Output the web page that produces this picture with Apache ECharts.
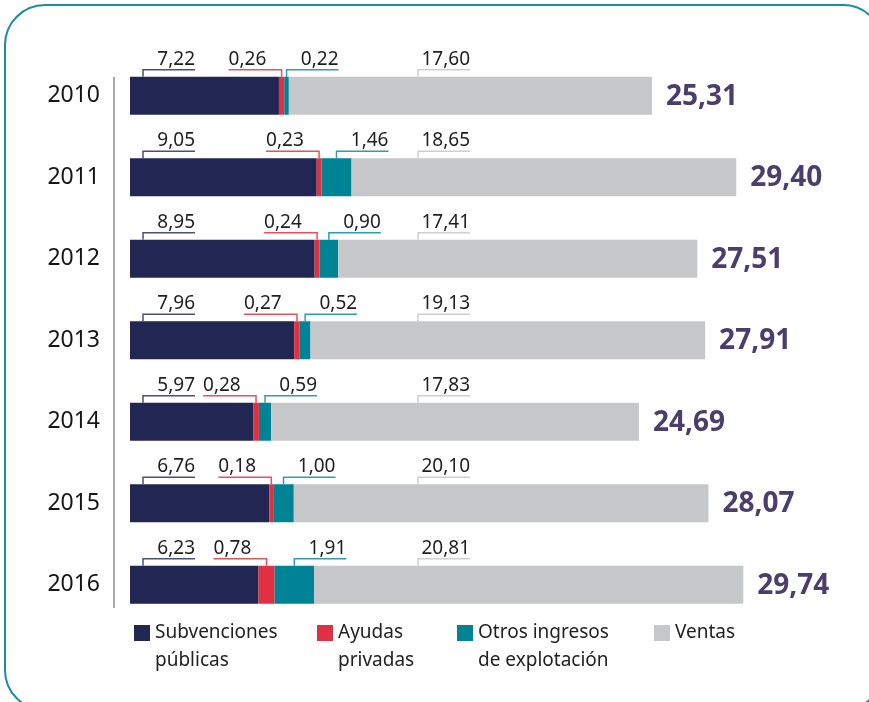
<!DOCTYPE html>
<html>
<head>
<meta charset="utf-8">
<title>Ingresos</title>
<script src="https://cdn.jsdelivr.net/npm/echarts@6/dist/echarts.min.js"></script>
<style>
  html, body { margin: 0; padding: 0; background: #fff; }
  #chart { width: 869px; height: 702px; }
</style>
</head>
<body>
<div id="chart"></div>
<script>
// datos (millones)
const years = ['2010', '2011', '2012', '2013', '2014', '2015', '2016'];
const subvenciones = [7.22, 9.05, 8.95, 7.96, 5.97, 6.76, 6.23];
const ayudas = [0.26, 0.23, 0.24, 0.27, 0.28, 0.18, 0.78];
const otros = [0.22, 1.46, 0.90, 0.52, 0.59, 1.00, 1.91];
const ventas = [17.60, 18.65, 17.41, 19.13, 17.83, 20.10, 20.81];
const totales = [25.31, 29.40, 27.51, 27.91, 24.69, 28.07, 29.74];

const seriesNames = ['Subvenciones públicas', 'Ayudas privadas', 'Otros ingresos de explotación', 'Ventas'];
const legendLabels = ['Subvenciones\npúblicas', 'Ayudas\nprivadas', 'Otros ingresos\nde explotación', 'Ventas'];

const colors = ['#212653', '#e03142', '#008395', '#c6c7c9'];
const bracketColors = ['#4b5079', '#e9505f', '#2f9dab', '#cfcfd1'];
const FONT = '"Noto Sans", "Open Sans", sans-serif';
const BAR_W = 38;

const fmt = (v) => v.toFixed(2).replace('.', ',');

// tramos acumulados para las etiquetas con corchete
const bracketData = [];
years.forEach((y, i) => {
  let acc = 0;
  [subvenciones, ayudas, otros, ventas].forEach((arr, k) => {
    const v = arr[i];
    bracketData.push([acc, acc + v, i, k, v]);
    acc += v;
  });
});

const renderBracket = (params, api) => {
  const start = api.value(0);
  const end = api.value(1);
  const cat = api.value(2);
  const kind = api.value(3);
  const v = api.value(4);
  const p0 = api.coord([start, cat]);
  const p1 = api.coord([end, cat]);
  const origin = api.coord([0, cat]);
  const barTop = p0[1] - BAR_W / 2;
  const lineY = barTop - 7;

  let legX;
  if (kind === 0) legX = origin[0] + 13;
  else if (kind === 3) legX = origin[0] + 288;
  else legX = (p0[0] + p1[0]) / 2;

  let points, textX, align;
  if (kind === 1) {
    points = [[legX - 53, lineY], [legX, lineY], [legX, barTop]];
    textX = legX - 53;
    align = 'left';
  } else {
    points = [[legX, barTop], [legX, lineY], [legX + 52, lineY]];
    textX = legX + 52;
    align = 'right';
  }

  return {
    type: 'group',
    children: [
      {
        type: 'polyline',
        shape: { points: points },
        style: { stroke: bracketColors[kind], lineWidth: 1.5, fill: null }
      },
      {
        type: 'text',
        style: {
          text: fmt(v),
          x: textX,
          y: lineY - 1,
          align: align,
          verticalAlign: 'bottom',
          fontSize: 19,
          fontFamily: FONT,
          fill: '#1e1e1e'
        }
      }
    ]
  };
};

const chart = echarts.init(document.getElementById('chart'));

const barSeries = [subvenciones, ayudas, otros, ventas].map((arr, k) => ({
  name: seriesNames[k],
  type: 'bar',
  stack: 'total',
  barWidth: BAR_W,
  data: arr,
  itemStyle: { color: colors[k] },
  silent: true,
  label: k === 3 ? {
    show: true,
    position: 'right',
    distance: 14,
    offset: [0, 1],
    formatter: (p) => fmt(totales[p.dataIndex]),
    fontSize: 28,
    fontWeight: 'bold',
    fontFamily: FONT,
    color: '#4a3e6c'
  } : { show: false }
}));

// cada leyenda por separado; la línea vacía inicial alinea la primera línea con el icono
const legendLefts = [134, 317, 457, 654];
const legends = seriesNames.map((name, k) => {
  const twoLines = legendLabels[k].indexOf('\n') >= 0;
  return {
    data: [{ name: name, icon: 'rect' }],
    left: legendLefts[k],
    top: twoLines ? 591 : 619,
    padding: 0,
    itemWidth: 16,
    itemHeight: 16,
    selectedMode: false,
    formatter: () => (twoLines ? ' \n' : '') + legendLabels[k],
    textStyle: {
      fontSize: 19,
      fontFamily: FONT,
      color: '#222',
      lineHeight: 28
    }
  };
});

const option = {
  backgroundColor: '#fff',
  animation: false,
  legend: legends,
  grid: { left: 130, top: 55, width: 722, height: 570.5 },
  xAxis: {
    type: 'value',
    min: 0,
    max: 35,
    show: false
  },
  yAxis: {
    type: 'category',
    data: years,
    inverse: true,
    axisLine: { show: false },
    axisTick: { show: false },
    axisLabel: {
      margin: 30,
      fontSize: 23,
      fontFamily: FONT,
      color: '#151515'
    }
  },
  graphic: [
    {
      type: 'rect',
      shape: { x: 5, y: 5, width: 878, height: 705, r: 40 },
      style: { fill: null, stroke: '#1a8d9e', lineWidth: 2 },
      silent: true
    },
    {
      type: 'line',
      shape: { x1: 114, y1: 77, x2: 114, y2: 608 },
      style: { stroke: '#8e8e8e', lineWidth: 1.5 },
      silent: true
    }
  ],
  series: barSeries.concat([{
    type: 'custom',
    name: 'etiquetas',
    renderItem: renderBracket,
    data: bracketData,
    encode: { x: [0, 1], y: 2 },
    clip: false,
    silent: true,
    z: 5
  }])
};

chart.setOption(option);
</script>
</body>
</html>
